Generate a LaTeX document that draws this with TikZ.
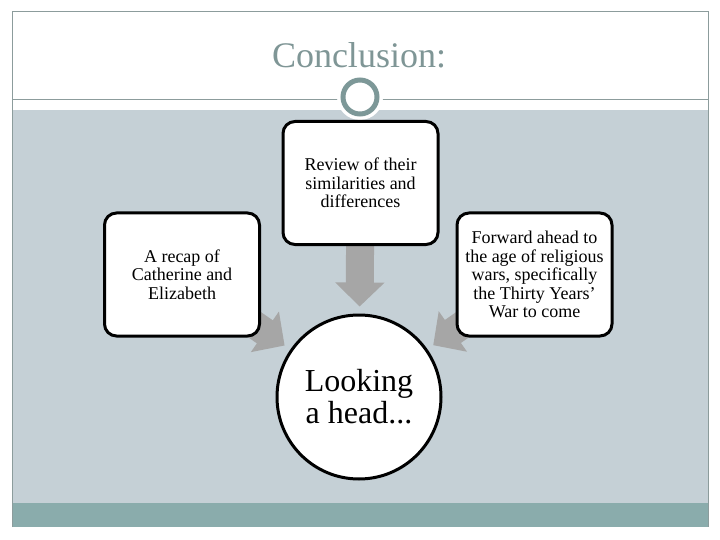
\documentclass[tikz,border=0pt]{standalone}
\usepackage{fontspec}
\setmainfont{Liberation Serif}
\usetikzlibrary{arrows.meta,backgrounds}
\definecolor{bandgray}{RGB}{197,208,214}
\definecolor{bandteal}{RGB}{138,172,172}
\definecolor{titlecol}{RGB}{127,150,150}
\definecolor{framecol}{RGB}{140,156,156}
\definecolor{ringcol}{RGB}{125,152,152}
\definecolor{arrowgray}{RGB}{166,166,166}
\begin{document}
\begin{tikzpicture}[x=1pt,y=-1pt,
  card/.style={draw=black, line width=3pt, fill=white, rounded corners=12pt,
    minimum width=155pt, minimum height=123pt, align=center, inner sep=0pt,
    font=\fontsize{18}{18.5}\selectfont},
  goal/.style={circle, draw=black, line width=3pt, fill=white, minimum size=164pt,
    align=center, inner sep=0pt, font=\fontsize{32}{32}\selectfont},
  flow/.style={arrowgray, line width=28pt, -{Triangle[width=48pt,length=24pt]}, shorten >=7pt}]
\useasboundingbox (0,0) rectangle (720,540);
\begin{scope}[on background layer]
  \fill[white] (0,0) rectangle (720,540);
  \fill[bandgray] (12,110) rectangle (708,503);
  \fill[bandteal] (12,503) rectangle (708,527);
  \draw[framecol, line width=1pt] (12,527) -- (12,12) -- (708,12) -- (708,527);
  \draw[framecol, line width=1pt] (12,100) -- (708,100);
  \fill[white] (360,97) circle (23);
  \draw[ringcol, line width=5pt] (360,97) circle (17);
\end{scope}
\node[titlecol, font=\fontsize{36}{36}\selectfont, anchor=base] (title) at (359,68) {Conclusion:};
\node[card] (rev) at (360.5,183) {Review of their\\similarities and\\differences};
\node[card] (recap) at (182,274.5) {A recap of\\Catherine and\\Elizabeth};
\node[card] (fwd) at (534.5,274.5) {Forward ahead to\\the age of religious\\wars, specifically\\the Thirty Years’\\War to come};
\node[goal] (look) at (359,397) {Looking\\a head...};
\begin{scope}[on background layer]
  \draw[flow] (rev) -- (look);
  \draw[flow] (recap.center) -- (look);
  \draw[flow] (fwd.center) -- (look);
\end{scope}
\end{tikzpicture}
\end{document}
